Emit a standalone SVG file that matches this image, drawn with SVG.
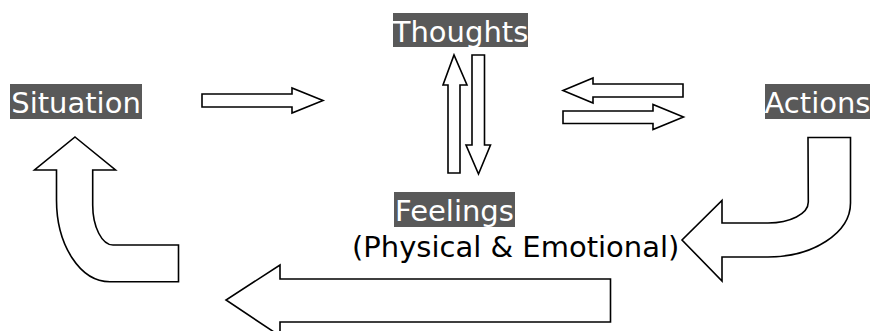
<svg xmlns="http://www.w3.org/2000/svg" width="870" height="331" viewBox="0 0 870 331">
<style>
.bg{fill:#595959}
.lbl{font-family:"DejaVu Sans","Verdana",sans-serif;font-size:29px;fill:#ffffff;text-anchor:middle}
.sub{font-family:"DejaVu Sans","Verdana",sans-serif;font-size:29px;fill:#000000}
.arr{fill:#ffffff;stroke:#000000;stroke-width:1.6;stroke-linejoin:miter}
</style>
<rect width="870" height="331" fill="#ffffff"/>
<g id="situation">
<rect class="bg" x="10" y="84" width="132" height="35"/>
<text class="lbl" x="76" y="113">Situation</text>
</g>
<g id="thoughts">
<rect class="bg" x="393" y="13" width="135" height="34"/>
<text class="lbl" x="460.5" y="42">Thoughts</text>
</g>
<g id="actions">
<rect class="bg" x="765" y="84" width="105" height="35"/>
<text class="lbl" x="817.5" y="113">Actions</text>
</g>
<g id="feelings">
<rect class="bg" x="394" y="192" width="121" height="35"/>
<text class="lbl" x="454.5" y="221">Feelings</text>
<text class="sub" x="352" y="257">(Physical &amp; Emotional)</text>
</g>
<g id="connectors">
<path class="arr" d="M202 94 L292 94 L292 88 L323 100.5 L292 113 L292 107 L202 107 Z"/>
<path class="arr" d="M448 173 L448 85 L443 85 L454 55 L467 85 L460 85 L460 173 Z"/>
<path class="arr" d="M472 55 L484.5 55 L484.5 145 L490.5 145 L478.5 174 L466 145 L472 145 Z"/>
<path class="arr" d="M683 84 L683 97 L593 97 L593 103 L563 90.5 L593 78 L593 84 Z"/>
<path class="arr" d="M563 111 L653 111 L653 104.5 L683.5 117 L653 129.5 L653 123.5 L563 123.5 Z"/>
<path class="arr" d="M808 137.5 L850.5 137.5 L850.5 203 C850.5 233 813 257 768 257 L722 257 L722 281 L682 240 L722 200.5 L722 223 L768 223 C790 223 808.3 214 808.3 202 Z"/>
<path class="arr" d="M75 137 L115.5 170 L92.7 170 L92.7 205 C92.7 227 102 245 113 245 L178.5 245 L178.5 281.7 L110 281.7 C80 281.7 56.5 245 56.5 200 L56.5 170 L34.5 170 Z"/>
<path class="arr" d="M610.5 279 L610.5 322 L280 322 L280 336 L226 300 L280 265 L280 279 Z"/>
</g>
</svg>
